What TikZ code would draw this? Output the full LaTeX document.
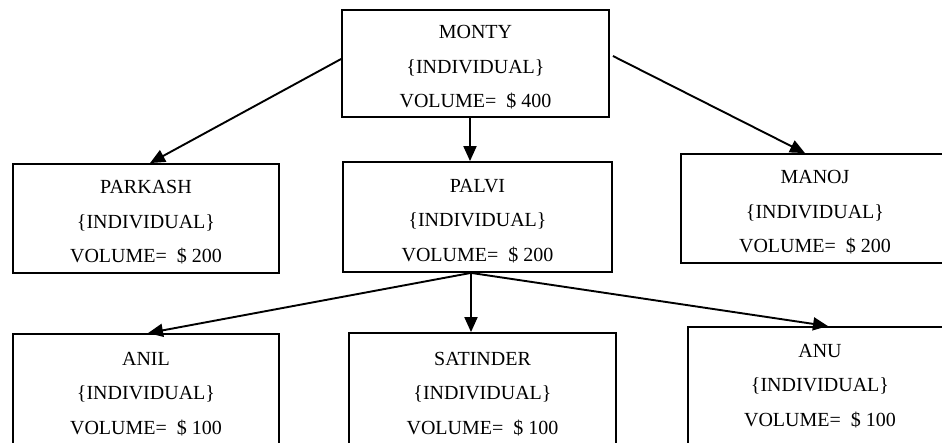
\documentclass[tikz,border=0pt]{standalone}
\usepackage{fontspec}
\setmainfont{Liberation Serif}
\usetikzlibrary{arrows.meta}
% tall strut on the first line of each box, which sets the text a little lower
\newcommand\firstline{\rule{0pt}{21.5pt}}
\begin{document}
\begin{tikzpicture}[x=1pt,y=-1pt,
  person/.style={draw, line width=1.8pt, inner sep=0pt, align=center,
    font=\fontsize{20}{34.5}\selectfont},
  link/.style={line width=1.9pt, -{Triangle[length=15pt,width=13pt]}}]
\useasboundingbox (0,0) rectangle (942,443);
\clip (0,0) rectangle (942,443);

% top level
\node[person, minimum width=267pt, minimum height=107pt] (monty) at (475.5,63.5)
  {\firstline MONTY\\\{INDIVIDUAL\}\\VOLUME=~~\$~400};

% second level
\node[person, minimum width=266pt, minimum height=109pt] (parkash) at (146,218.5)
  {\firstline PARKASH\\\{INDIVIDUAL\}\\VOLUME=~~\$~200};
\node[person, minimum width=269pt, minimum height=110pt] (palvi) at (477.5,217)
  {\firstline PALVI\\\{INDIVIDUAL\}\\VOLUME=~~\$~200};
\node[person, minimum width=268pt, minimum height=109pt] (manoj) at (815,208.5)
  {\firstline MANOJ\\\{INDIVIDUAL\}\\VOLUME=~~\$~200};

% third level (runs past the lower edge)
\node[person, minimum width=266pt, minimum height=112pt] (anil) at (146,390)
  {\firstline ANIL\\\{INDIVIDUAL\}\\VOLUME=~~\$~100};
\node[person, minimum width=267pt, minimum height=114pt] (satinder) at (482.5,390)
  {\firstline SATINDER\\\{INDIVIDUAL\}\\VOLUME=~~\$~100};
\node[person, minimum width=264pt, minimum height=118pt] (anu) at (820,386)
  {ANU\\\{INDIVIDUAL\}\\VOLUME=~~\$~100};

% vertical spines of the tree
\coordinate (upper) at (470,0);
\coordinate (lower) at (471,0);

% connectors
\draw[link] ([yshift=4.5pt]monty.west) -- ([xshift=4pt]parkash.north);
\draw[link] (monty.south -| upper) -- (palvi.north -| upper);
\draw[link] ([yshift=7.5pt,xshift=3pt]monty.east) -- ([xshift=-10pt]manoj.north);

\draw[link] (palvi.south -| lower) -- ([xshift=2pt]anil.north);
\draw[link] (palvi.south -| lower) -- (satinder.north -| lower);
\draw[link] (palvi.south -| lower) -- ([xshift=8pt]anu.north);
\end{tikzpicture}
\end{document}
